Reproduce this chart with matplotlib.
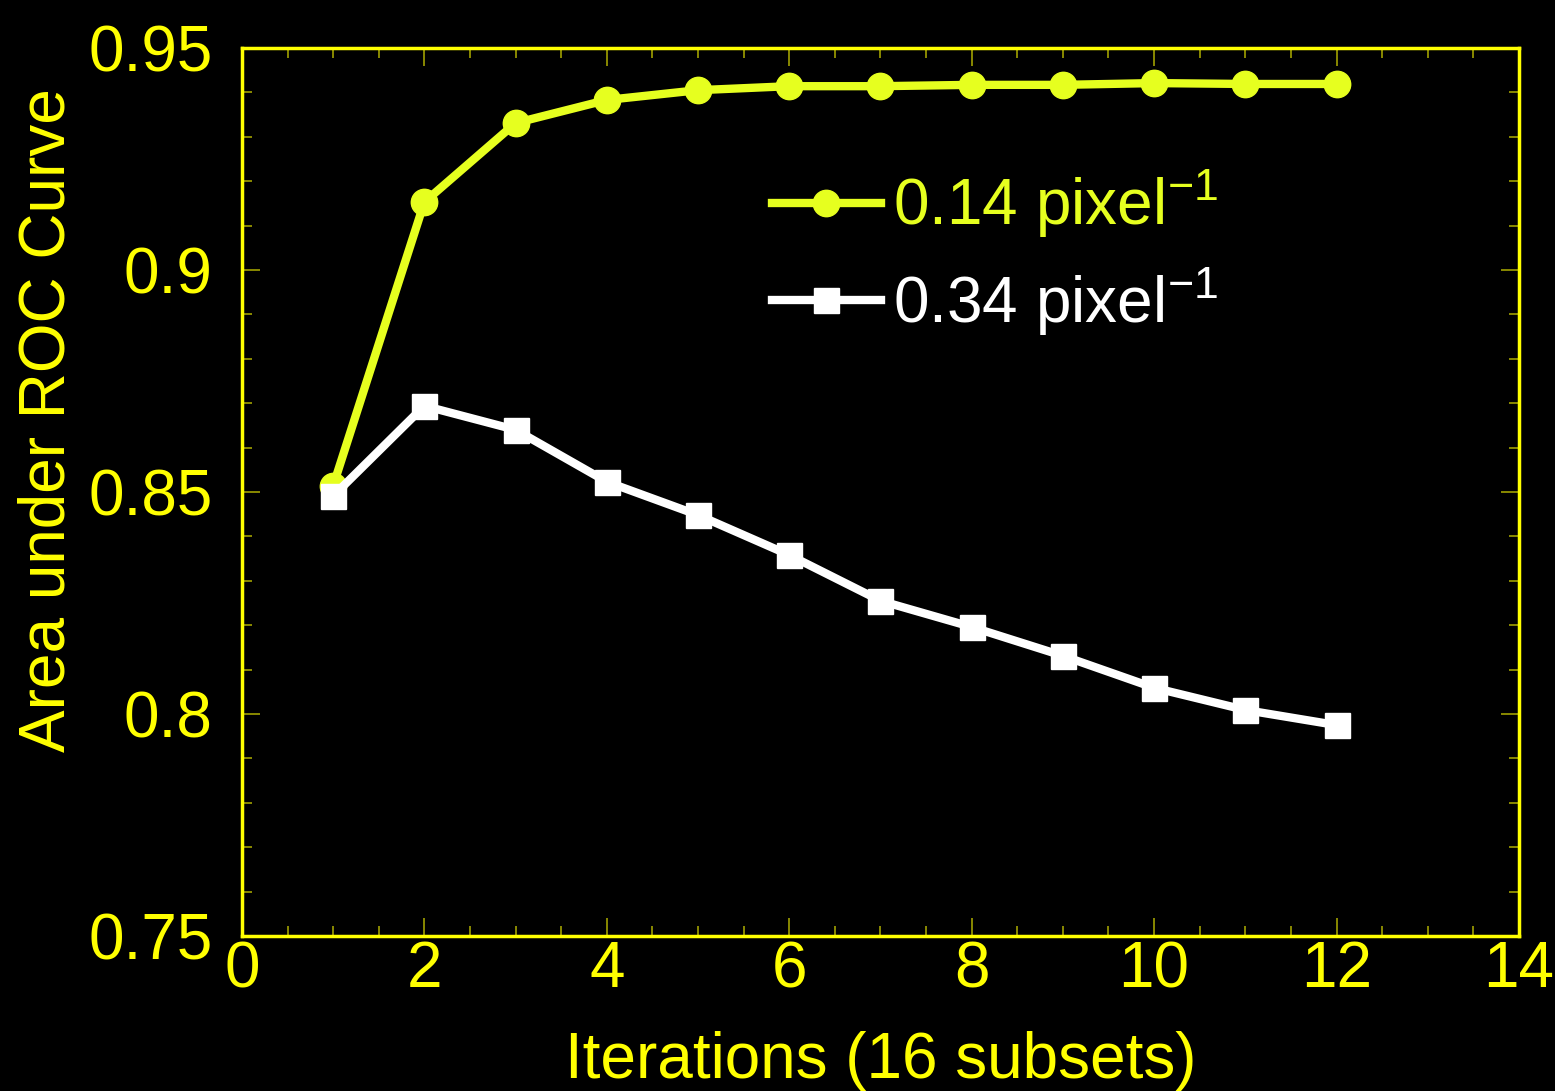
import matplotlib.pyplot as plt
from matplotlib.ticker import MultipleLocator

plt.rcParams['font.family'] = ['Liberation Sans', 'DejaVu Sans']
plt.rcParams['mathtext.fontset'] = 'custom'
plt.rcParams['mathtext.rm'] = 'Liberation Sans'
plt.rcParams['mathtext.it'] = 'Liberation Sans:italic'
plt.rcParams['mathtext.bf'] = 'Liberation Sans:bold'

# data
iterations = [1, 2, 3, 4, 5, 6, 7, 8, 9, 10, 11, 12]
auc_014 = [0.8514, 0.9153, 0.9331, 0.9383, 0.9405, 0.9414,
           0.9414, 0.9417, 0.9417, 0.9421, 0.9419, 0.9419]
auc_034 = [0.8491, 0.8694, 0.8640, 0.8523, 0.8448, 0.8358,
           0.8255, 0.8196, 0.8131, 0.8059, 0.8009, 0.7975]
labels = [r'0.14 pixel$^{-1}$', r'0.34 pixel$^{-1}$']

axis_col = '#ffff00'
c1 = '#e6ff1f'
c2 = '#ffffff'

fig = plt.figure(figsize=(15.55, 10.91), dpi=100, facecolor='black')
ax = fig.add_axes([0.1556, 0.1421, 0.8212, 0.8139], facecolor='black')

ax.plot(iterations, auc_014, '-o', color=c1, lw=6, ms=19, label=labels[0])
ax.plot(iterations, auc_034, '-s', color=c2, lw=6, ms=18, label=labels[1])

ax.set_xlim(0, 14)
ax.set_ylim(0.75, 0.95)
ax.xaxis.set_major_locator(MultipleLocator(2))
ax.xaxis.set_minor_locator(MultipleLocator(0.5))
ax.yaxis.set_minor_locator(MultipleLocator(0.01))
ax.set_yticks([0.75, 0.8, 0.85, 0.9, 0.95])
ax.set_yticklabels(['0.75', '0.8', '0.85', '0.9', '0.95'])

for s in ax.spines.values():
    s.set_color(axis_col)
    s.set_linewidth(2.5)

ax.tick_params(which='both', direction='in', top=True, right=True,
               color='#a0a000', labelcolor=axis_col, labelsize=46)
ax.tick_params(which='major', length=13, width=1.2)
ax.tick_params(which='minor', length=7, width=1.2)
ax.tick_params(axis='x', pad=3)
ax.tick_params(axis='y', pad=21)

ax.set_xlabel('Iterations (16 subsets)', color=axis_col, fontsize=46)
ax.set_ylabel('Area under ROC Curve', color=axis_col, fontsize=46)
ax.xaxis.set_label_coords(0.5, -0.107)
ax.yaxis.set_label_coords(-0.129, 0.581)

leg = ax.legend(loc='upper left', bbox_to_anchor=(0.37, 0.93), frameon=False,
                fontsize=46, handlelength=1.7, handletextpad=0.2,
                labelspacing=0.4)
for t, c in zip(leg.get_texts(), [c1, c2]):
    t.set_color(c)

fig.savefig('out.png', dpi=100, facecolor='black')
